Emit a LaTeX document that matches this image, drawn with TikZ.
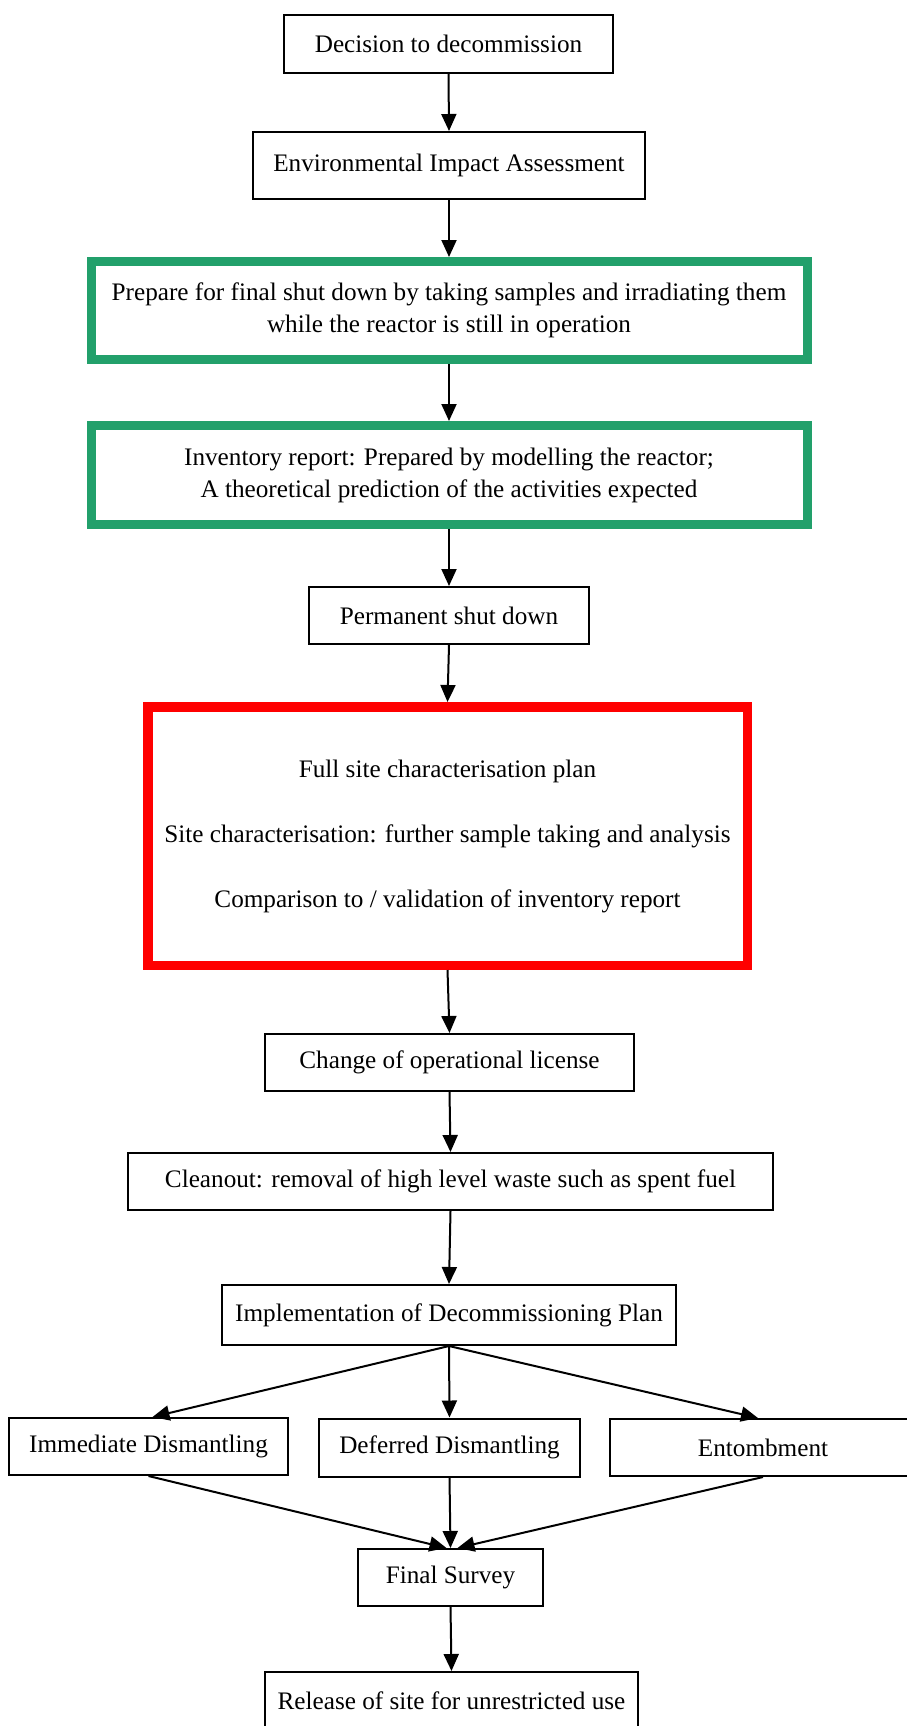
\documentclass[tikz,border=0pt]{standalone}
\usepackage{fontspec}
\setmainfont{Liberation Serif}
\usetikzlibrary{arrows.meta}
\definecolor{boxgreen}{RGB}{34,160,107}
\definecolor{boxred}{RGB}{255,0,0}
\tikzset{
  box/.style={draw=black, line width=2pt, fill=white, inner sep=0pt, align=center,
    font=\fontsize{25.2}{32}\selectfont},
  greenbox/.style={box, draw=boxgreen, line width=9pt},
  redbox/.style={box, draw=boxred, line width=9.5pt},
  conn/.style={line width=2pt, -{Triangle[length=17pt,width=15pt]}}
}
\begin{document}
\begin{tikzpicture}[x=1pt,y=-1pt]
\clip (0,0) rectangle (907,1726);
\fill[white] (0,0) rectangle (907,1726);
\node[box, minimum width=329pt, minimum height=58pt] (dec) at (448.5,44) {Decision to decommission};
\node[box, minimum width=392pt, minimum height=67pt] (eia) at (449,165.5) {Environmental Impact Assessment};
\node[greenbox, minimum width=716pt, minimum height=98pt] (prep) at (449,310.5) {Prepare for final shut down by taking samples and irradiating them\\while the reactor is still in operation};
\node[greenbox, minimum width=716pt, minimum height=99pt] (inv) at (449,475) {Inventory report: Prepared by modelling the reactor;\\A theoretical prediction of the activities expected};
\node[box, minimum width=280pt, minimum height=57pt] (perm) at (449,615.5) {Permanent shut down};
\node[redbox, minimum width=599.5pt, minimum height=258.5pt] (red) at (447.5,836) {Full site characterisation plan\\[33pt]Site characterisation: further sample taking and analysis\\[33pt]Comparison to / validation of inventory report};
\node[box, minimum width=369pt, minimum height=57pt] (lic) at (449.5,1062.5) {Change of operational license};
\node[box, minimum width=645pt, minimum height=57pt] (clean) at (450.5,1181.5) {Cleanout: removal of high level waste such as spent fuel};
\node[box, minimum width=454pt, minimum height=60pt] (impl) at (449,1315) {Implementation of Decommissioning Plan};
\node[box, minimum width=279pt, minimum height=57pt] (imm) at (148.5,1446.5) {Immediate Dismantling};
\node[box, minimum width=261pt, minimum height=58pt] (def) at (449.5,1447.5) {Deferred Dismantling};
\node[box, minimum width=306pt, minimum height=57pt] (ent) at (763,1447.5) {Entombment};
\node[box, minimum width=185pt, minimum height=57pt] (fin) at (450.5,1577.5) {Final Survey};
\node[box, minimum width=373pt, minimum height=57pt] (rel) at (451.5,1700.5) {Release of site for unrestricted use};
\draw[conn] (dec.south) -- (eia.north);
\draw[conn] (eia.south) -- (prep.north);
\draw[conn] (prep.south) -- (inv.north);
\draw[conn] (inv.south) -- (perm.north);
\draw[conn] (perm.south) -- (red.north);
\draw[conn] (red.south) -- (lic.north);
\draw[conn] (lic.south) -- (clean.north);
\draw[conn] (clean.south) -- (impl.north);
\draw[conn] (impl.south) -- ([xshift=4pt]imm.north);
\draw[conn] (impl.south) -- (def.north);
\draw[conn] (impl.south) -- ([xshift=-5pt]ent.north);
\draw[conn] (imm.south) -- ([xshift=-4pt]fin.north);
\draw[conn] (def.south) -- (fin.north);
\draw[conn] (ent.south) -- ([xshift=7pt]fin.north);
\draw[conn] (fin.south) -- (rel.north);
\end{tikzpicture}
\end{document}
